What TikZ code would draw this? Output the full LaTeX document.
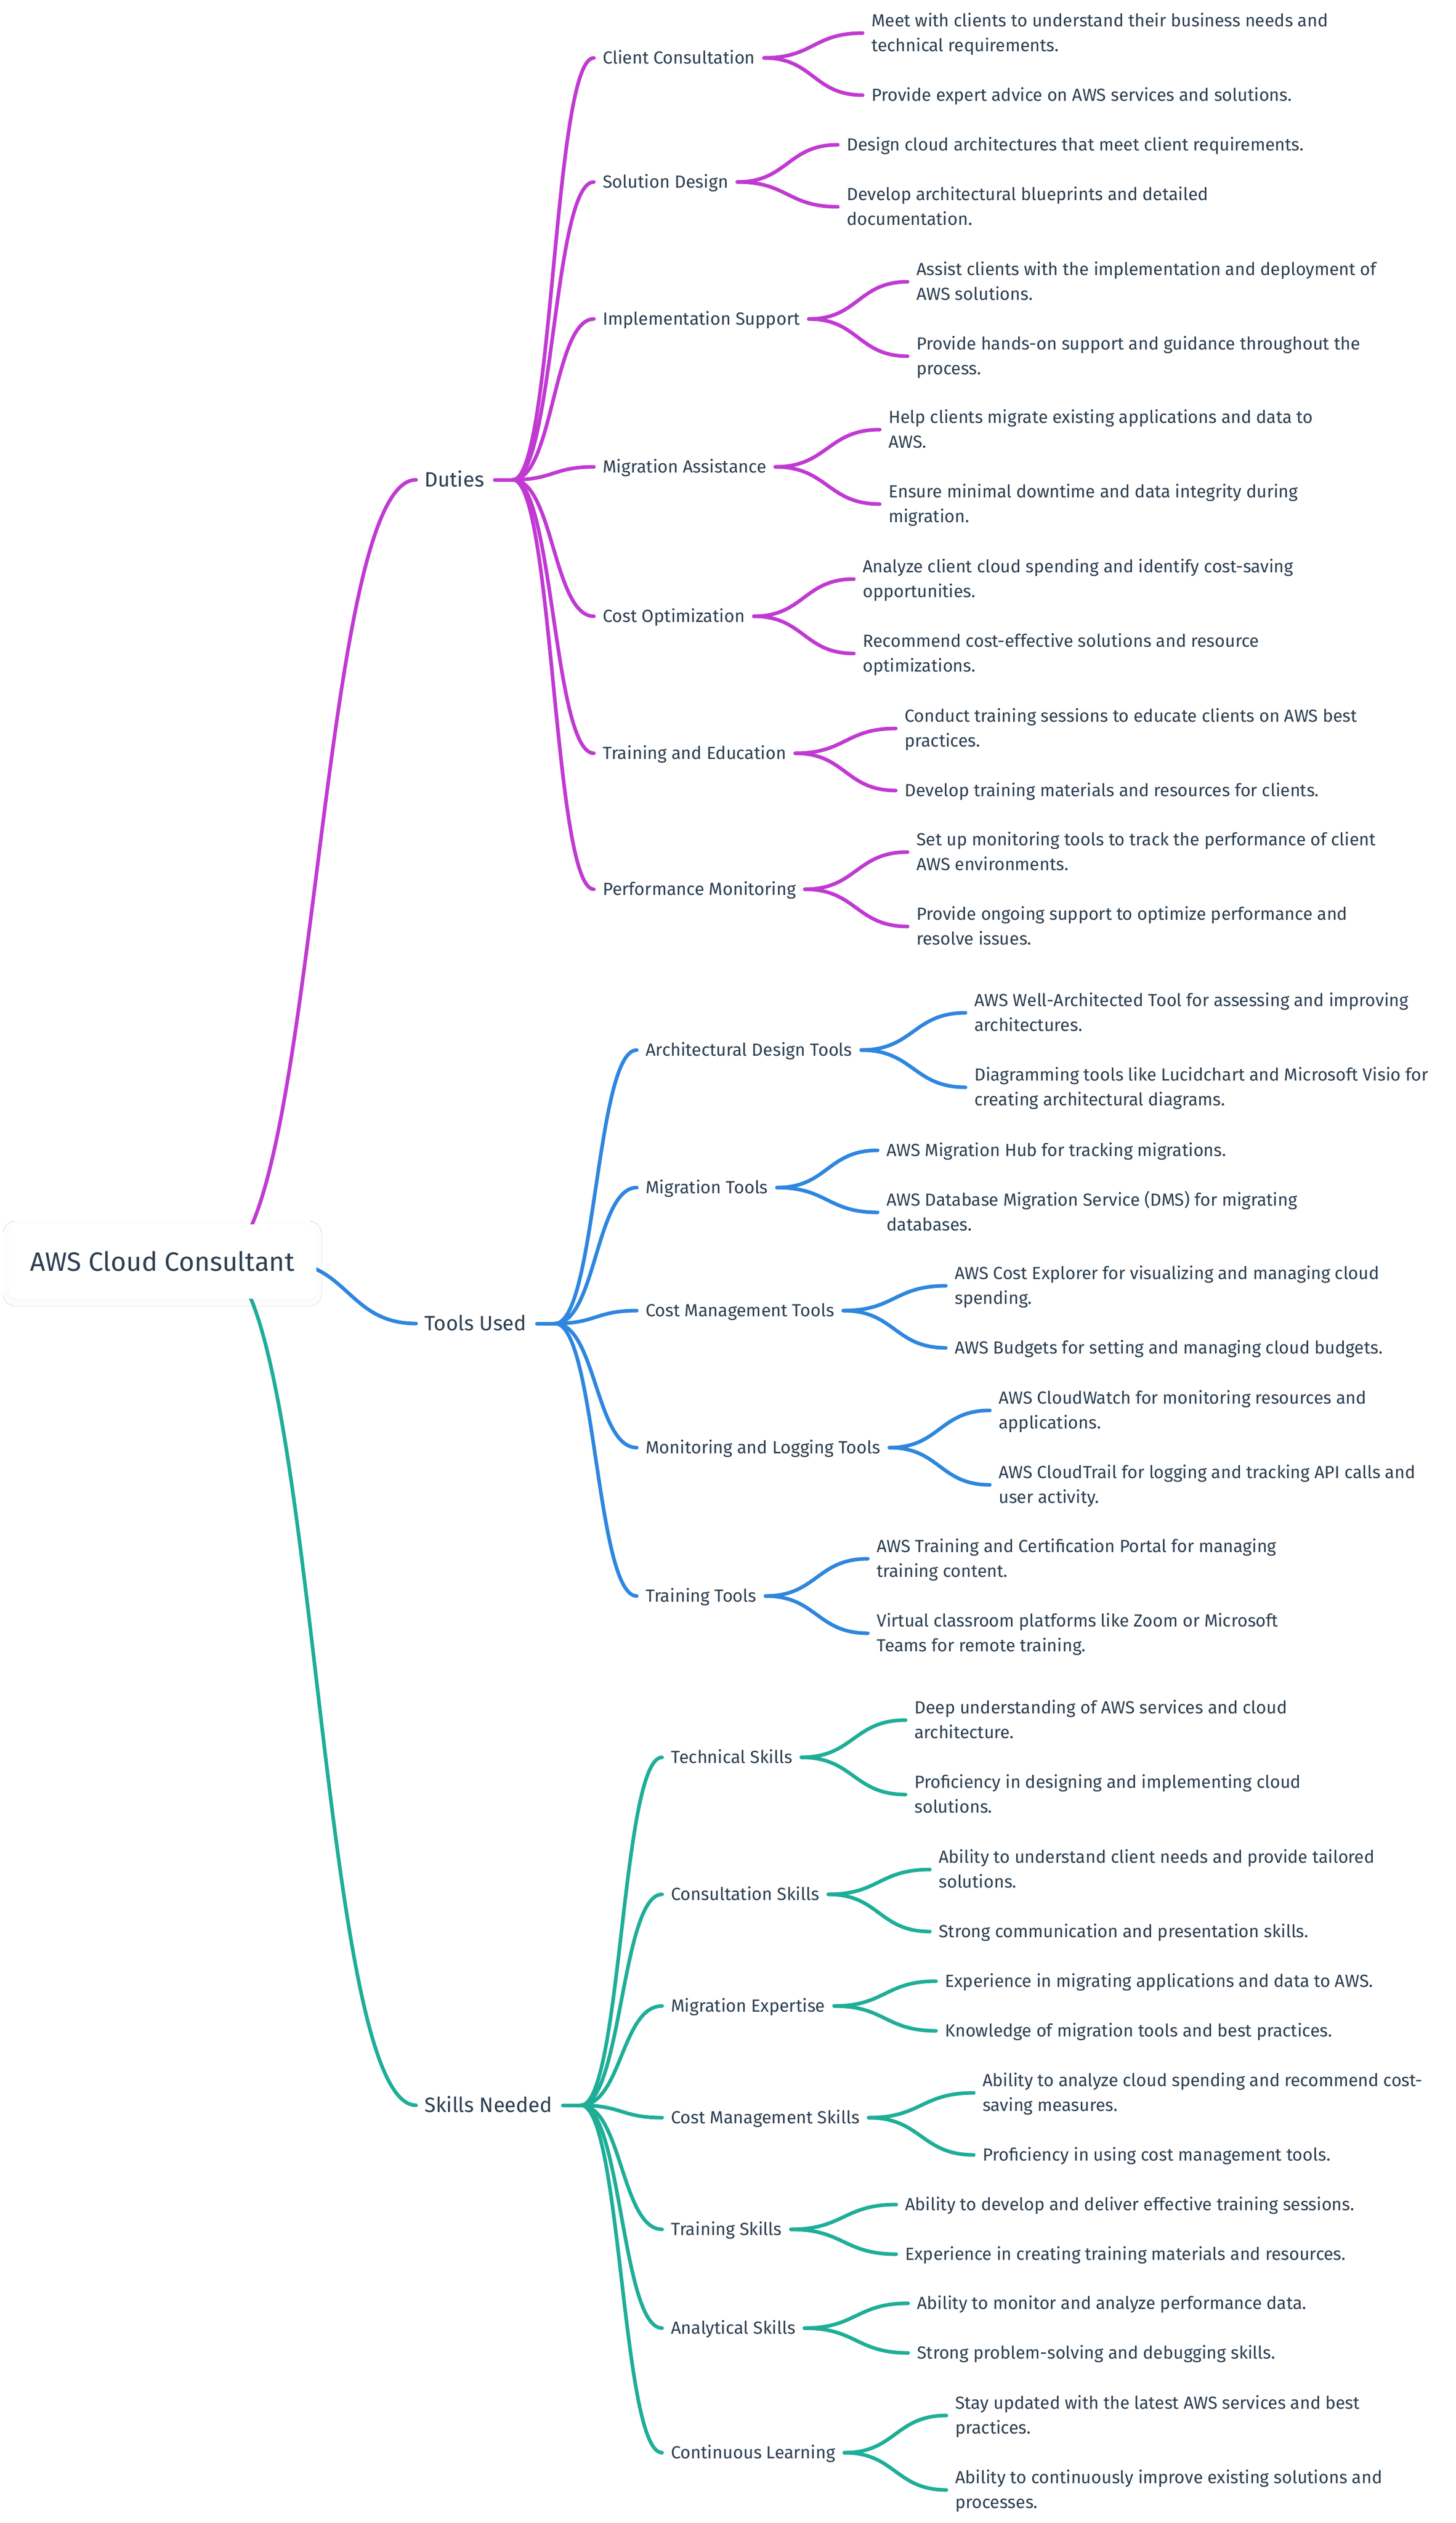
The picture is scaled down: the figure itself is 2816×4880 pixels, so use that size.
\documentclass[tikz,border=0pt]{standalone}
\usepackage{fontspec}
\setmainfont{Fira Sans}
\usetikzlibrary{calc,shadows.blur}
\definecolor{cduty}{HTML}{C03AD2}
\definecolor{ctool}{HTML}{2E86DE}
\definecolor{cskill}{HTML}{1EAE98}
\definecolor{ctext}{HTML}{2C3E50}
\newlength\mmlen
\newcommand\mmcalib[3]{\settowidth\mmlen{\fontsize{10pt}{12pt}\selectfont #2}\pgfmathsetmacro#1{10*#3/\mmlen}\global\let#1#1}
\AtBeginDocument{%
\mmcalib\szroot{AWS Cloud Consultant}{255.5}%
\mmcalib\szone{Skills Needed}{123.5}%
\mmcalib\sztwo{Monitoring and Logging Tools}{227}%
\mmcalib\szleaf{Meet with clients to understand their business needs and}{441.5}%
\pgfmathsetmacro\capone{0.689*\szone}%
\pgfmathsetmacro\captwo{0.689*\sztwo}%
\pgfmathsetmacro\capleaf{0.689*\szleaf}%
}
\newcommand\twol[2]{\vtop{\baselineskip=24.2pt\lineskiplimit=-\maxdimen\hbox{#1}\hbox{#2}}}
\newcommand\scurve[3]{\draw[#1] let \p1=(#2), \p2=(#3) in (\p1) .. controls ({0.5*\x1+0.5*\x2},\y1) and ({0.5*\x1+0.5*\x2},\y2) .. (\p2);}
\tikzset{
  rootbox/.style={inner sep=0pt, minimum width=298pt, minimum height=72pt, rounded corners=7pt, fill=white, text=ctext,
    font=\fontsize{\szroot pt}{\szroot pt}\selectfont,
    blur shadow={shadow blur radius=5pt, shadow xshift=0pt, shadow yshift=-2pt, shadow opacity=4}},
  lvone/.style={anchor=west, inner sep=0pt, text=ctext, font=\fontsize{\szone pt}{\szone pt}\selectfont, text height=\capone pt, text depth=0pt},
  lvtwo/.style={anchor=west, inner sep=0pt, text=ctext, font=\fontsize{\sztwo pt}{\sztwo pt}\selectfont, text height=\captwo pt, text depth=0pt},
  leaf/.style={anchor=west, inner sep=0pt, text=ctext, font=\fontsize{\szleaf pt}{24.2pt}\selectfont, text height=\capleaf pt, text depth=0pt},
  two/.style={text depth=24.2pt},
  duty/.style={draw=cduty, line width=3.5pt, line cap=round},
  tool/.style={draw=ctool, line width=3.5pt, line cap=round},
  skill/.style={draw=cskill, line width=3.5pt, line cap=round},
}
\begin{document}
\begin{tikzpicture}[x=0.5pt,y=-0.5pt]
\fill[white] (0,0) rectangle (2816,4880);
\useasboundingbox (0,0) rectangle (2816,4880);

% ---------- level 1 ----------
\node[lvone] (duties) at (821,928) {Duties};
\node[lvone] (tools) at (821,2560) {Tools Used};
\node[lvone] (skills) at (821,4072) {Skills Needed};
\coordinate (dutiesA) at ([xshift=10pt]duties.east);
\coordinate (dutiesB) at ([xshift=27.5pt]duties.east);
\coordinate (toolsA) at ([xshift=10pt]tools.east);
\coordinate (toolsB) at ([xshift=27.5pt]tools.east);
\coordinate (skillsA) at ([xshift=10pt]skills.east);
\coordinate (skillsB) at ([xshift=27.5pt]skills.east);
\draw[duty] (dutiesA) -- (dutiesB);
\draw[tool] (toolsA) -- (toolsB);
\draw[skill] (skillsA) -- (skillsB);

% ---------- root curves ----------
\coordinate (rootP) at (421,2440);
\coordinate (rootB) at (541,2440);
\scurve{duty}{rootP}{[xshift=-8pt]duties.west}
\scurve{tool}{rootB}{[xshift=-8pt]tools.west}
\scurve{skill}{rootP}{[xshift=-8pt]skills.west}
\node[rootbox] (root) at (314,2440) {AWS Cloud Consultant};

% ---------- Duties ----------
\node[lvtwo] (d1) at (1166,112) {Client Consultation};
\node[leaf,two] (d1a) at (1686,64) {\twol{Meet with clients to understand their business needs and}{technical requirements.}};
\node[leaf] (d1b) at (1686,184) {Provide expert advice on AWS services and solutions.};
\node[lvtwo] (d2) at (1166,352) {Solution Design};
\node[leaf] (d2a) at (1638,280) {Design cloud architectures that meet client requirements.};
\node[leaf,two] (d2b) at (1638,400) {\twol{Develop architectural blueprints and detailed}{documentation.}};
\node[lvtwo] (d3) at (1166,617) {Implementation Support};
\node[leaf,two] (d3a) at (1773,545) {\twol{Assist clients with the implementation and deployment of}{AWS solutions.}};
\node[leaf,two] (d3b) at (1773,689) {\twol{Provide hands-on support and guidance throughout the}{process.}};
\node[lvtwo] (d4) at (1166,903) {Migration Assistance};
\node[leaf,two] (d4a) at (1719,831) {\twol{Help clients migrate existing applications and data to}{AWS.}};
\node[leaf,two] (d4b) at (1719,975) {\twol{Ensure minimal downtime and data integrity during}{migration.}};
\node[lvtwo] (d5) at (1166,1192) {Cost Optimization};
\node[leaf,two] (d5a) at (1669,1120) {\twol{Analyze client cloud spending and identify cost-saving}{opportunities.}};
\node[leaf,two] (d5b) at (1669,1264) {\twol{Recommend cost-effective solutions and resource}{optimizations.}};
\node[lvtwo] (d6) at (1166,1457) {Training and Education};
\node[leaf,two] (d6a) at (1750,1409) {\twol{Conduct training sessions to educate clients on AWS best}{practices.}};
\node[leaf] (d6b) at (1750,1529) {Develop training materials and resources for clients.};
\node[lvtwo] (d7) at (1166,1720) {Performance Monitoring};
\node[leaf,two] (d7a) at (1773,1648) {\twol{Set up monitoring tools to track the performance of client}{AWS environments.}};
\node[leaf,two] (d7b) at (1773,1792) {\twol{Provide ongoing support to optimize performance and}{resolve issues.}};
\foreach \br in {d1,d2,d3,d4,d5,d6,d7}{
  \scurve{duty}{dutiesB}{[xshift=-8.5pt]\br.west}
  \scurve{duty}{[xshift=8.5pt]\br.east}{[xshift=-8.5pt]\br a.west}
  \scurve{duty}{[xshift=8.5pt]\br.east}{[xshift=-8.5pt]\br b.west}
}

% ---------- Tools Used ----------
\node[lvtwo] (t1) at (1249,2031) {Architectural Design Tools};
\node[leaf,two] (t1a) at (1885,1959) {\twol{AWS Well-Architected Tool for assessing and improving}{architectures.}};
\node[leaf,two] (t1b) at (1885,2103) {\twol{Diagramming tools like Lucidchart and Microsoft Visio for}{creating architectural diagrams.}};
\node[lvtwo] (t2) at (1249,2297) {Migration Tools};
\node[leaf] (t2a) at (1715,2225) {AWS Migration Hub for tracking migrations.};
\node[leaf,two] (t2b) at (1715,2345) {\twol{AWS Database Migration Service (DMS) for migrating}{databases.}};
\node[lvtwo] (t3) at (1249,2535) {Cost Management Tools};
\node[leaf,two] (t3a) at (1847,2487) {\twol{AWS Cost Explorer for visualizing and managing cloud}{spending.}};
\node[leaf] (t3b) at (1847,2607) {AWS Budgets for setting and managing cloud budgets.};
\node[lvtwo] (t4) at (1249,2800) {Monitoring and Logging Tools};
\node[leaf,two] (t4a) at (1932,2728) {\twol{AWS CloudWatch for monitoring resources and}{applications.}};
\node[leaf,two] (t4b) at (1932,2872) {\twol{AWS CloudTrail for logging and tracking API calls and}{user activity.}};
\node[lvtwo] (t5) at (1249,3087) {Training Tools};
\node[leaf,two] (t5a) at (1696,3015) {\twol{AWS Training and Certification Portal for managing}{training content.}};
\node[leaf,two] (t5b) at (1696,3159) {\twol{Virtual classroom platforms like Zoom or Microsoft}{Teams for remote training.}};
\foreach \br in {t1,t2,t3,t4,t5}{
  \scurve{tool}{toolsB}{[xshift=-8.5pt]\br.west}
  \scurve{tool}{[xshift=8.5pt]\br.east}{[xshift=-8.5pt]\br a.west}
  \scurve{tool}{[xshift=8.5pt]\br.east}{[xshift=-8.5pt]\br b.west}
}

% ---------- Skills Needed ----------
\node[lvtwo] (s1) at (1298,3399) {Technical Skills};
\node[leaf,two] (s1a) at (1769,3327) {\twol{Deep understanding of AWS services and cloud}{architecture.}};
\node[leaf,two] (s1b) at (1769,3471) {\twol{Proficiency in designing and implementing cloud}{solutions.}};
\node[lvtwo] (s2) at (1298,3664) {Consultation Skills};
\node[leaf,two] (s2a) at (1816,3616) {\twol{Ability to understand client needs and provide tailored}{solutions.}};
\node[leaf] (s2b) at (1816,3736) {Strong communication and presentation skills.};
\node[lvtwo] (s3) at (1298,3880) {Migration Expertise};
\node[leaf] (s3a) at (1828,3832) {Experience in migrating applications and data to AWS.};
\node[leaf] (s3b) at (1828,3928) {Knowledge of migration tools and best practices.};
\node[lvtwo] (s4) at (1298,4096) {Cost Management Skills};
\node[leaf,two] (s4a) at (1901,4048) {\twol{Ability to analyze cloud spending and recommend cost-}{saving measures.}};
\node[leaf] (s4b) at (1901,4168) {Proficiency in using cost management tools.};
\node[lvtwo] (s5) at (1298,4312) {Training Skills};
\node[leaf] (s5a) at (1751,4264) {Ability to develop and deliver effective training sessions.};
\node[leaf] (s5b) at (1751,4360) {Experience in creating training materials and resources.};
\node[lvtwo] (s6) at (1298,4503) {Analytical Skills};
\node[leaf] (s6a) at (1774,4455) {Ability to monitor and analyze performance data.};
\node[leaf] (s6b) at (1774,4551) {Strong problem-solving and debugging skills.};
\node[lvtwo] (s7) at (1298,4744) {Continuous Learning};
\node[leaf,two] (s7a) at (1848,4672) {\twol{Stay updated with the latest AWS services and best}{practices.}};
\node[leaf,two] (s7b) at (1848,4816) {\twol{Ability to continuously improve existing solutions and}{processes.}};
\foreach \br in {s1,s2,s3,s4,s5,s6,s7}{
  \scurve{skill}{skillsB}{[xshift=-8.5pt]\br.west}
  \scurve{skill}{[xshift=8.5pt]\br.east}{[xshift=-8.5pt]\br a.west}
  \scurve{skill}{[xshift=8.5pt]\br.east}{[xshift=-8.5pt]\br b.west}
}
\end{tikzpicture}
\end{document}
